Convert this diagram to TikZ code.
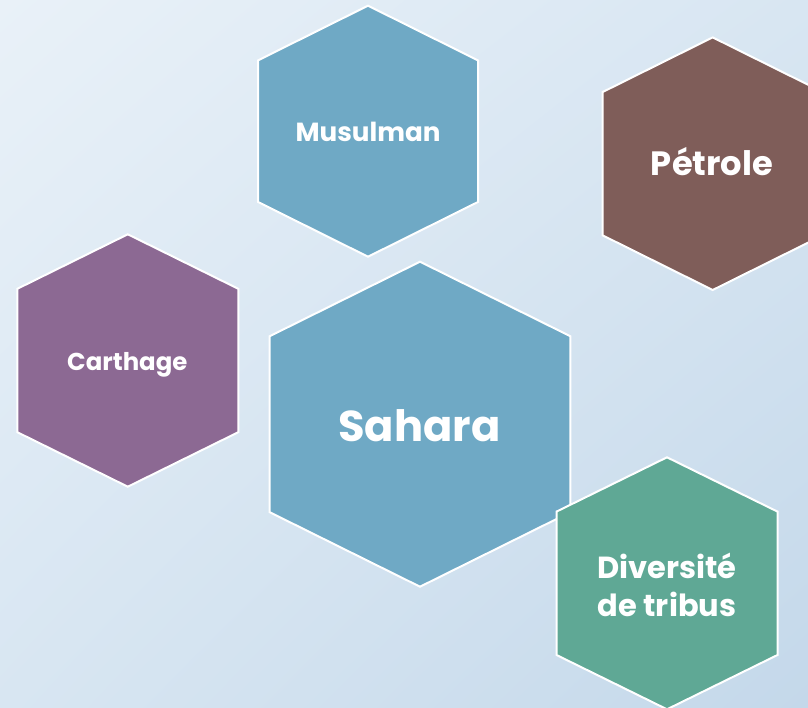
\documentclass[tikz,border=0pt]{standalone}
\usepackage{fontspec}
\setmainfont{Poppins}
\usetikzlibrary{shadings}
\begin{document}
\begin{tikzpicture}[x=1pt,y=-1pt,
  hexlabel/.style={text=white,font=\bfseries,inner sep=0pt},
  hexedge/.style={draw=white,line width=2pt,line join=miter}]
\definecolor{bgA}{HTML}{E9F1F8}
\definecolor{bgB}{HTML}{D8E6F2}
\definecolor{bgC}{HTML}{C4D8EA}
\definecolor{hexblue}{HTML}{6FA9C5}
\definecolor{hexbrown}{HTML}{7F5D59}
\definecolor{hexpurple}{HTML}{8C6993}
\definecolor{hexgreen}{HTML}{5FA895}
\useasboundingbox (0,0) rectangle (808,708);
\shade[upper left=bgA,upper right=bgB,lower left=bgB,lower right=bgC] (0,0) rectangle (808,708);
% hexagon: center (cx,cy), half width hw, half height hh, side offset so
\newcommand\hexashape[6]{%
  \path[hexedge,fill=#6] (#1,#2-#4) -- (#1+#3,#2-#5) -- (#1+#3,#2+#5) -- (#1,#2+#4)
    -- (#1-#3,#2+#5) -- (#1-#3,#2-#5) -- cycle;}
\hexashape{368}{131.2}{110}{125.5}{70.8}{hexblue}
\hexashape{712.7}{163.7}{110}{126.3}{71.7}{hexbrown}
\hexashape{127.8}{360.5}{110.5}{126.2}{71.7}{hexpurple}
\hexashape{420}{424.2}{150.3}{162.5}{88}{hexblue}
\hexashape{667}{583.3}{110.5}{126}{71.7}{hexgreen}
\node[hexlabel,anchor=base,font=\bfseries\fontsize{26.2}{32}\selectfont] (musulman) at (368,141.7) {Musulman};
\node[hexlabel,anchor=base,font=\bfseries\fontsize{33.7}{40}\selectfont] (petrole) at (712,175.7) {Pétrole};
\node[hexlabel,anchor=base,font=\bfseries\fontsize{24.4}{30}\selectfont] (carthage) at (127.3,370.7) {Carthage};
\node[hexlabel,anchor=base,font=\bfseries\fontsize{43.2}{52}\selectfont] (sahara) at (419.5,441) {Sahara};
\node[hexlabel,align=center,font=\bfseries\fontsize{30.5}{38.3}\selectfont] (diversite) at (667,585) {Diversité\\de tribus};
\end{tikzpicture}
\end{document}
